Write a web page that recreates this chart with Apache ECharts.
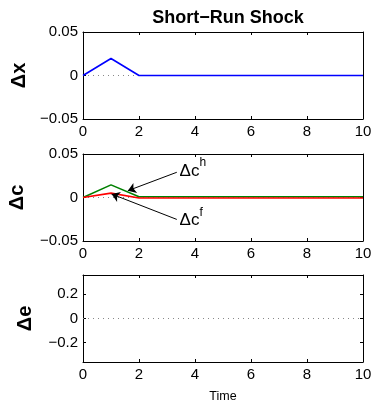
<!DOCTYPE html>
<html>
<head>
<meta charset="utf-8">
<script src="https://cdn.jsdelivr.net/npm/echarts@6/dist/echarts.min.js"></script>
<style>
  html, body { margin: 0; padding: 0; background: #fff; }
  #chart { width: 374px; height: 400px; }
</style>
</head>
<body>
<div id="chart"></div>
<script>
// data
const time = [0, 1, 2, 3, 4, 5, 6, 7, 8, 9, 10]
const dx = [0, 0.0195, 0, 0, 0, 0, 0, 0, 0, 0, 0]
const dcHome = [0, 0.0145, 0.0008, 0.0008, 0.0008, 0.0008, 0.0008, 0.0008, 0.0008, 0.0008, 0.0008]
const dcForeign = [0, 0.005, -0.0005, -0.0005, -0.0005, -0.0005, -0.0005, -0.0005, -0.0005, -0.0005, -0.0005]
const zeroLine = [[0, 0], [10, 0]]
const xTicks = [0, 2, 4, 6, 8, 10]
const yTicksSmall = [-0.05, 0, 0.05]
const yTicksE = [-0.2, 0, 0.2]
const yNames = ['Δx', 'Δc', 'Δe']
const title = 'Short−Run Shock'
// arrow annotations [tail, head] in data coords
const arrowHome = [[3.35, 0.029], [1.6, 0.0078]]
const arrowForeign = [[3.35, -0.0252], [1.02, 0.004]]
const labelHome = [3.45, 0.0305]
const labelForeign = [3.45, -0.0265]

const FONT = 'Liberation Sans, Arial, sans-serif'
const grids = [
  { left: 83, right: 11, top: 32, height: 87, outerBoundsMode: 'none', containLabel: false },
  { left: 83, right: 11, top: 154, height: 87, outerBoundsMode: 'none', containLabel: false },
  { left: 83, right: 11, top: 275, height: 87, outerBoundsMode: 'none', containLabel: false },
]
const yRanges = [[-0.05, 0.05], [-0.05, 0.05], [-0.36, 0.36]]
const yTickSets = [yTicksSmall, yTicksSmall, yTicksE]
const nameGaps = [53, 56, 48]

const fmtY = (v) => {
  if (Math.abs(v) < 1e-9) return '0'
  const s = Math.abs(v) < 0.1 ? Math.abs(v).toFixed(2) : Math.abs(v).toFixed(1)
  return (v < 0 ? '−' : '') + s
}

const xAxis = []
const yAxis = []
grids.forEach((g, i) => {
  xAxis.push({
    type: 'value', gridIndex: i, min: 0, max: 10, interval: 2, position: 'bottom',
    name: i === 2 ? 'Time' : '', nameLocation: 'middle', nameGap: 28,
    nameTextStyle: { color: '#000', fontSize: 12.5, fontFamily: FONT },
    axisLine: { show: true, onZero: false, lineStyle: { color: '#000', width: 1 } },
    axisTick: { show: true, inside: true, length: 3, customValues: xTicks, lineStyle: { color: '#000' } },
    axisLabel: { show: true, customValues: xTicks, color: '#000', fontSize: 15, fontFamily: FONT, margin: 5 },
    splitLine: { show: false },
  })
  xAxis.push({
    type: 'value', gridIndex: i, min: 0, max: 10, interval: 2, position: 'top',
    axisLine: { show: true, onZero: false, lineStyle: { color: '#000', width: 1 } },
    axisTick: { show: true, inside: true, length: 3, customValues: xTicks, lineStyle: { color: '#000' } },
    axisLabel: { show: false },
    splitLine: { show: false },
  })
  const ticks = yTickSets[i]
  yAxis.push({
    type: 'value', gridIndex: i, min: yRanges[i][0], max: yRanges[i][1], position: 'left',
    name: yNames[i], nameLocation: 'middle', nameGap: nameGaps[i], nameRotate: 90,
    nameTextStyle: { color: '#000', fontSize: 20, fontWeight: 'bold', fontFamily: FONT },
    axisLine: { show: true, onZero: false, lineStyle: { color: '#000', width: 1 } },
    axisTick: { show: true, inside: true, length: 3, customValues: ticks, lineStyle: { color: '#000' } },
    axisLabel: { show: true, customValues: ticks, formatter: fmtY, color: '#000', fontSize: 15, fontFamily: FONT, margin: 5 },
    splitLine: { show: false },
  })
  yAxis.push({
    type: 'value', gridIndex: i, min: yRanges[i][0], max: yRanges[i][1], position: 'right',
    axisLine: { show: true, onZero: false, lineStyle: { color: '#000', width: 1 } },
    axisTick: { show: true, inside: true, length: 3, customValues: ticks, lineStyle: { color: '#000' } },
    axisLabel: { show: false },
    splitLine: { show: false },
  })
})

const zeroSeries = (i) => ({
  type: 'line', xAxisIndex: i * 2, yAxisIndex: i * 2, data: zeroLine,
  symbol: 'none', silent: true, z: 1,
  lineStyle: { color: '#888', width: 1, type: [1, 4] },
})

const line = (i, data, color, extra) => Object.assign({
  type: 'line', xAxisIndex: i * 2, yAxisIndex: i * 2,
  data: time.map((t, k) => [t, data[k]]),
  symbol: 'none', z: 3,
  lineStyle: { color: color, width: 1.6 },
}, extra || {})

const supLabel = (sup) => ({
  show: true, position: 'right', distance: 0,
  formatter: '{a|Δc}{b|' + sup + '}',
  rich: {
    a: { fontSize: 17, color: '#000', fontFamily: FONT, lineHeight: 20 },
    b: { fontSize: 12, color: '#000', fontFamily: FONT, lineHeight: 12, padding: [0, 0, 16, 0] },
  },
})

const option = {
  animation: false,
  backgroundColor: '#fff',
  title: {
    text: title, left: 223, top: 4, textAlign: 'center',
    textStyle: { color: '#000', fontSize: 18, fontWeight: 'bold', fontFamily: FONT },
  },
  grid: grids,
  xAxis: xAxis,
  yAxis: yAxis,
  series: [
    zeroSeries(0),
    line(0, dx, '#0000ff'),
    zeroSeries(1),
    line(1, dcHome, '#008000', {
      markLine: {
        silent: true, symbol: ['none', 'arrow'], symbolSize: [8, 8],
        lineStyle: { color: '#000', width: 1, type: 'solid' },
        label: { show: false },
        z: 5,
        data: [
          [{ coord: arrowHome[0] }, { coord: arrowHome[1] }],
          [{ coord: arrowForeign[0] }, { coord: arrowForeign[1] }],
        ],
      },
      markPoint: {
        silent: true, symbol: 'circle', symbolSize: 0,
        data: [
          { coord: labelHome, label: supLabel('h') },
          { coord: labelForeign, label: supLabel('f') },
        ],
      },
    }),
    line(1, dcForeign, '#ff0000'),
    zeroSeries(2),
  ],
}

const chart = echarts.init(document.getElementById('chart'), null, { renderer: 'canvas' })
chart.setOption(option)
</script>
</body>
</html>
